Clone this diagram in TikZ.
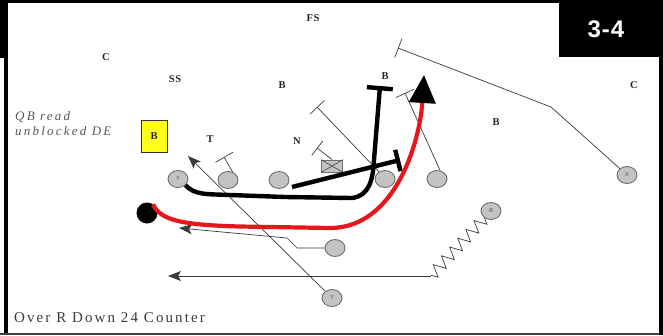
\documentclass[tikz,border=0pt]{standalone}
\usepackage{fontspec}
\setmainfont{Liberation Serif}
\newfontfamily\hsans{Liberation Sans}
\usetikzlibrary{shapes.geometric,arrows.meta,decorations.pathmorphing}
\definecolor{plgray}{HTML}{C3C3C3}
\definecolor{edgegray}{HTML}{6E6E6E}
\definecolor{playred}{HTML}{E5171C}
\definecolor{ink}{HTML}{3A3A3A}
\definecolor{tagc}{HTML}{8A6A50}
\definecolor{qbyellow}{HTML}{FFFF1A}
\begin{document}
\begin{tikzpicture}[x=1pt,y=-1pt,
  player/.style={ellipse,draw=edgegray,fill=plgray,line width=0.9pt,minimum width=20pt,minimum height=17pt,inner sep=0pt,font=\hsans\bfseries\fontsize{5.5}{6}\selectfont,text=tagc},
  deflbl/.style={inner sep=0pt,text=black!85,font=\bfseries\fontsize{10.5}{11}\selectfont\addfontfeature{LetterSpace=6}},
  thinroute/.style={draw=ink,line width=0.7pt},
  arrowroute/.style={thinroute,-{Stealth[length=13pt,width=10pt,inset=3pt]}},
  thinblock/.style={thinroute,-{Bar[width=20pt]}},
  heavyline/.style={draw=black,line width=4.4pt},
  redroute/.style={draw=playred,line width=4.2pt,-{Triangle[length=28pt,width=26pt,color=black]}}
]
\useasboundingbox (0,0) rectangle (663,335);
% frame
\fill[black] (0,0) rectangle (663,3);
\fill[black] (0,0) rectangle (8,58);
\fill[black] (4,0) rectangle (8,333);
\fill[black!75] (0,332.5) rectangle (663,335);
\fill[black] (659,0) rectangle (663,335);
\fill[black] (559,0) rectangle (663,57);
\node[text=white,font=\hsans\bfseries\fontsize{24}{24}\selectfont\addfontfeature{LetterSpace=4},inner sep=0] (title) at (606,29) {3-4};

% defense labels
\node[deflbl] (fs) at (313,18) {FS};
\node[deflbl] (cl) at (106,57) {C};
\node[deflbl] (ss) at (175,79) {SS};
\node[deflbl] (b1) at (282,85) {B};
\node[deflbl] (b2) at (385,76) {B};
\node[deflbl] (cr) at (634,85) {C};
\node[deflbl] (b3) at (496,122) {B};
\node[deflbl] (tl) at (210,139) {T};
\node[deflbl] (nl) at (297,141) {N};
\node[draw=black!80,fill=qbyellow,minimum width=26pt,minimum height=32pt,inner sep=0,line width=0.8pt,font=\bfseries\fontsize{10.5}{11}\selectfont,text=black!85] (yb) at (154,136) {B};

% notes
\node[anchor=north west,align=left,inner sep=0,text=ink!85,font=\itshape\fontsize{13}{15}\selectfont\addfontfeature{LetterSpace=17}] (note) at (15,111) {QB read\\unblocked DE};
\node[anchor=west,inner sep=0,text=ink,font=\fontsize{15}{15}\selectfont\addfontfeature{LetterSpace=14}] (playname) at (14,318) {Over R Down 24 Counter};

% offense
\node[player] (y) at (178,179) {Y};
\node[player] (g1) at (228,180) {};
\node[player] (g2) at (279,180) {};
\node[draw=edgegray,fill=plgray,line width=0.8pt,minimum width=21pt,minimum height=12pt,inner sep=0] (ctr) at (332,166) {};
\draw[edgegray!60!black,line width=0.6pt] (ctr.north west) -- (ctr.south east) (ctr.north east) -- (ctr.south west);
\node[player] (g3) at (385,179) {};
\node[player] (g4) at (437,179) {};
\node[player] (x) at (627,175) {X};
\node[player] (r) at (491,211) {R};
\node[player] (fb) at (335,248) {};
\node[player] (t) at (332,298) {T};
\node[circle,fill=black,minimum size=21pt,inner sep=0] (qb) at (147,213) {};

% free ends
\coordinate (tEnd) at (188,156);
\coordinate (fbA) at (297,248);
\coordinate (fbB) at (287,238);
\coordinate (fbEnd) at (179,228);
\coordinate (zEnd) at (431,276);
\coordinate (rEnd) at (168,276);
\coordinate (xA) at (551,107);
\coordinate (xEnd) at (398,48);
\coordinate (g4End) at (405,93);
\coordinate (g3End) at (317,107);
\coordinate (ctrEnd) at (317,148);
\coordinate (g1End) at (224,157);
\coordinate (blkEnd) at (380,86);
\coordinate (blk2Start) at (292,187);
\coordinate (blk2End) at (400,160);
\coordinate (redTip) at (424,75);

% thin routes
\draw[arrowroute] (t) -- (tEnd);
\draw[arrowroute] (fb) -- (fbA) -- (fbB) -- (fbEnd);
\draw[thinroute,decorate,decoration={zigzag,segment length=12pt,amplitude=6pt}] (r) -- (zEnd);
\draw[arrowroute] (zEnd) -- (rEnd);
\draw[thinblock] (x) -- (xA) -- (xEnd);
\draw[thinblock] (g4.70) -- (g4End);
\draw[thinblock] (g3.130) -- (g3End);
\draw[thinblock,-{Bar[width=18pt]}] (ctr.north) -- (ctrEnd);
\draw[thinblock] (g1.60) -- (g1End);

% heavy routes
\draw[heavyline,-{Bar[width=26pt]}] (y.-40) .. controls (195,195) and (205,194) .. (230,195) -- (285,197) -- (352,198) .. controls (369,196) and (373,180) .. (374,160) -- (blkEnd);
\draw[heavyline,-{Bar[width=22pt]}] (blk2Start) -- (blk2End);
\draw[redroute] (qb.55) .. controls (160,221) and (185,225) .. (240,226.5) -- (330,228) .. controls (396,228) and (420,140) .. (redTip);
\end{tikzpicture}
\end{document}
